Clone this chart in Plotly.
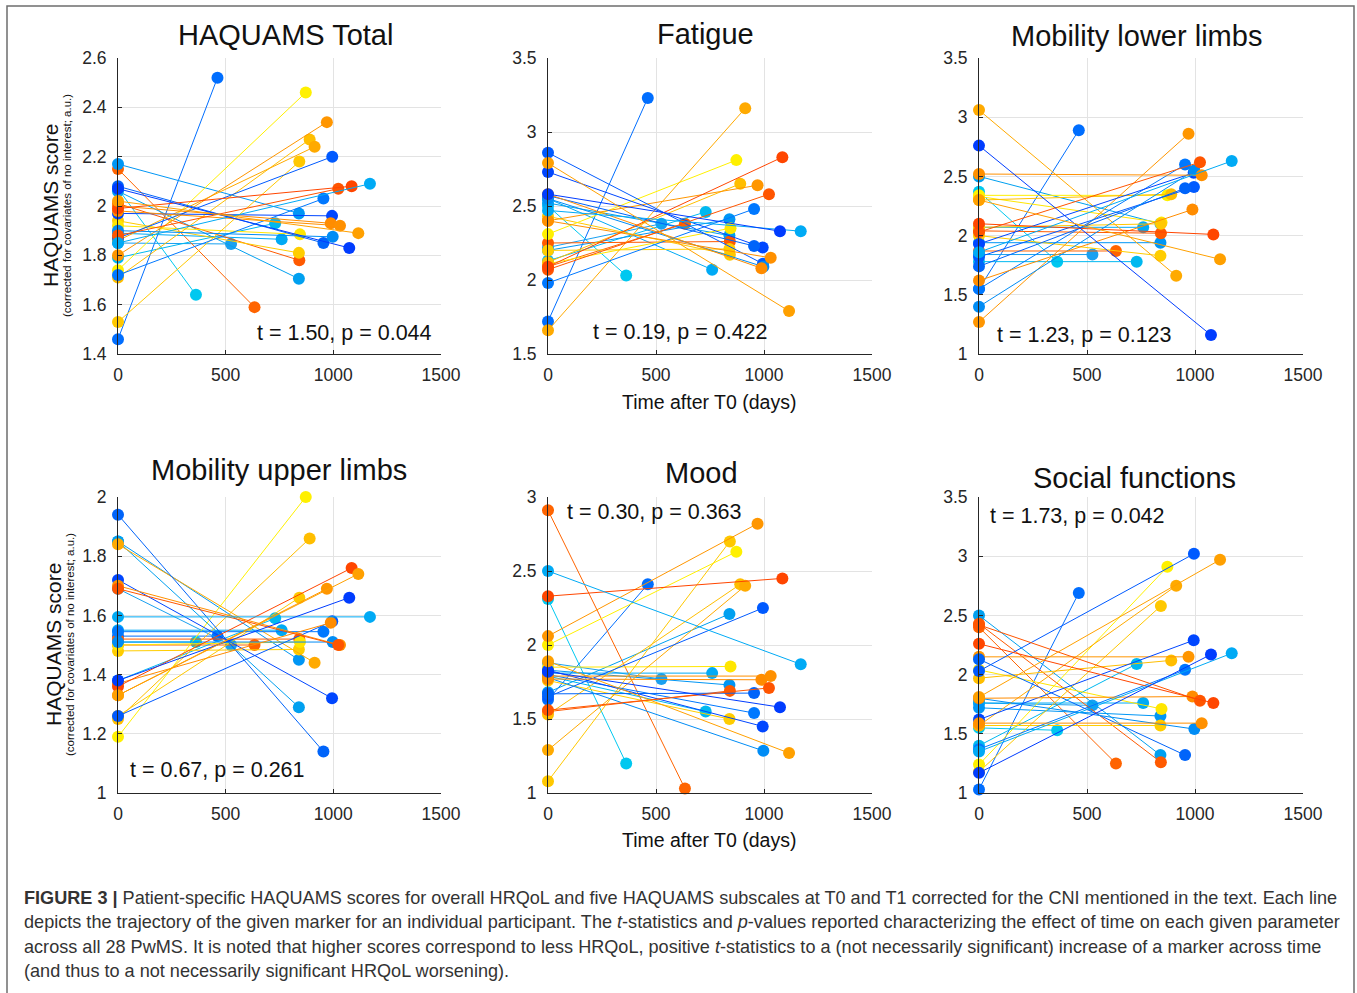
import plotly.graph_objects as go

W, H = 1357, 993

# ---------------- data ----------------
participants = [f"P{i}" for i in range(1, 29)]
t1_days = [462, 362, 525, 634, 730, 760, 840, 840, 842, 840, 845, 842, 872, 890,
           913, 970, 995, 954, 994, 954, 997, 988, 1031, 1023, 1085, 1170, 1074, 1116]
colors = ["#006eff", "#00c8f0", "#19a0f0", "#ff6400", "#00b8f0", "#00aaf5", "#0096f5",
          "#00a0f0", "#ff5a00", "#ffcd00", "#ffe600", "#ffc800", "#fff000", "#ffbe00",
          "#ffaa00", "#ff9600", "#005aff", "#0078ff", "#0046ff", "#0064fa", "#008cf5",
          "#ff8c00", "#ff9000", "#ff5500", "#ff4600", "#00aaf5", "#003cff", "#ffa000"]

total_t0 = [1.46, 2.07, 1.85, 2.15, 1.79, 1.89, 2.17, 2.06, 2.01, 1.94, 1.92, 1.53, 1.74, 1.71,
            1.86, 1.80, 1.87, 1.72, 1.97, 2.08, 1.90, 2.00, 1.98, 1.88, 1.99, 1.85, 2.07, 2.02]
total_t1 = [2.52, 1.64, 1.846, 1.59, 1.93, 1.865, 1.97, 1.705, 1.78, 1.81, 1.885, 2.18, 2.46, 2.27,
            2.24, 2.34, 2.20, 2.03, 1.96, 1.85, 1.875, 1.93, 1.92, 2.07, 2.08, 2.09, 1.83, 1.89]

fatigue_t0 = [1.72, 2.50, 2.22, 2.09, 2.13, 2.55, 2.20, 2.52, 2.25, 2.20, 2.11, 2.43, 2.31, 2.12,
              1.66, 2.40, 2.86, 1.98, 2.73, 2.57, 2.55, 2.58, 2.40, 2.07, 2.09, 2.47, 2.58, 2.79]
fatigue_t1 = [3.23, 2.03, 2.38, 2.38, 2.46, 2.07, 2.41, 2.30, 2.26, 2.21, 2.35, 2.17, 2.81, 2.65,
              3.16, 2.64, 2.11, 2.48, 2.22, 2.23, 2.09, 2.08, 2.15, 2.58, 2.83, 2.33, 2.33, 1.79]

mob_low_t0 = [1.55, 2.37, 1.84, 1.87, 1.78, 2.07, 1.94, 2.50, 2.04, 2.00, 2.33, 2.07, 2.34, 2.30,
              3.06, 1.27, 1.82, 1.55, 1.93, 1.74, 1.40, 1.62, 2.52, 2.03, 2.10, 1.86, 2.76, 2.30]
mob_low_t1 = [2.89, 1.78, 1.84, 1.87, 1.78, 2.07, 1.94, 2.10, 2.02, 1.83, 2.11, 2.10, 2.34, 2.35,
              1.66, 2.86, 2.41, 2.60, 2.53, 2.40, 2.55, 2.22, 2.51, 2.62, 2.01, 2.63, 1.16, 1.80]

mob_up_t0 = [1.53, 1.51, 1.69, 1.50, 1.38, 1.55, 1.85, 1.85, 1.52, 1.48, 1.50, 1.26, 1.19, 1.25,
             1.84, 1.33, 1.26, 1.545, 1.72, 1.94, 1.51, 1.37, 1.70, 1.69, 1.36, 1.595, 1.38, 1.33]
mob_up_t1 = [1.53, 1.51, 1.50, 1.50, 1.59, 1.55, 1.45, 1.29, 1.52, 1.485, 1.51, 1.66, 2.00, 1.86,
             1.44, 1.69, 1.58, 1.545, 1.32, 1.14, 1.51, 1.575, 1.50, 1.50, 1.76, 1.595, 1.66, 1.74]

mood_t0 = [1.63, 2.31, 1.88, 2.91, 1.79, 1.81, 1.83, 1.68, 1.55, 1.76, 1.85, 1.08, 2.00, 1.53,
           1.29, 2.06, 1.65, 1.80, 1.83, 1.67, 1.78, 1.77, 1.79, 1.56, 2.33, 2.50, 1.82, 1.89]
mood_t1 = [2.41, 1.20, 1.77, 1.03, 1.55, 1.81, 1.73, 2.21, 1.69, 1.50, 1.855, 2.70, 2.63, 2.41,
           2.40, 2.82, 2.25, 1.54, 1.45, 1.675, 1.285, 1.765, 1.79, 1.71, 2.45, 1.87, 1.58, 1.27]

social_t0 = [1.03, 1.55, 1.76, 2.40, 1.40, 1.76, 1.72, 2.50, 2.43, 1.57, 2.04, 1.18, 1.24, 1.97,
             1.57, 2.15, 2.03, 1.37, 1.62, 2.13, 1.80, 1.80, 1.59, 2.42, 2.26, 1.35, 1.17, 1.81]
social_t1 = [2.69, 1.53, 1.74, 1.25, 2.09, 1.76, 1.65, 1.32, 1.26, 1.57, 1.71, 2.58, 2.91, 2.12,
             2.75, 2.15, 3.02, 2.04, 2.29, 1.32, 1.54, 1.815, 1.59, 1.78, 1.76, 2.18, 2.17, 2.97]

panel_titles = ["HAQUAMS Total", "Fatigue", "Mobility lower limbs",
                "Mobility upper limbs", "Mood", "Social functions"]
panel_stats = ["t = 1.50, p = 0.044", "t = 0.19, p = 0.422", "t = 1.23, p = 0.123",
               "t = 0.67, p = 0.261", "t = 0.30, p = 0.363", "t = 1.73, p = 0.042"]
y_ranges = [(1.4, 2.6), (1.5, 3.5), (1.0, 3.5), (1.0, 2.0), (1.0, 3.0), (1.0, 3.5)]
y_ticks = [[1.4, 1.6, 1.8, 2.0, 2.2, 2.4, 2.6], [1.5, 2, 2.5, 3, 3.5], [1, 1.5, 2, 2.5, 3, 3.5],
           [1, 1.2, 1.4, 1.6, 1.8, 2], [1, 1.5, 2, 2.5, 3], [1, 1.5, 2, 2.5, 3, 3.5]]
y_ticktext = [["1.4", "1.6", "1.8", "2", "2.2", "2.4", "2.6"], ["1.5", "2", "2.5", "3", "3.5"],
              ["1", "1.5", "2", "2.5", "3", "3.5"], ["1", "1.2", "1.4", "1.6", "1.8", "2"],
              ["1", "1.5", "2", "2.5", "3"], ["1", "1.5", "2", "2.5", "3", "3.5"]]
x_ticks = [0, 500, 1000, 1500]
x_title = "Time after T0 (days)"
y_title = "HAQUAMS score"
y_subtitle = "(corrected for covariates of no interest; a.u.)"

panels_t0 = [total_t0, fatigue_t0, mob_low_t0, mob_up_t0, mood_t0, social_t0]
panels_t1 = [total_t1, fatigue_t1, mob_low_t1, mob_up_t1, mood_t1, social_t1]

# ---------------- layout geometry (pixels) ----------------
col_px = [(118, 441), (548, 872), (979, 1303)]
row_px = [(58, 354), (497, 793)]

def px(x):
    return x / W

def py(y):
    return 1 - y / H

FONT = "Liberation Sans, Arial, Helvetica, sans-serif"
TXT = "#262626"

fig = go.Figure()
layout = dict(width=W, height=H, margin=dict(l=0, r=0, t=0, b=0, pad=0, autoexpand=False),
              autosize=False,
              paper_bgcolor="white", plot_bgcolor="white", showlegend=False,
              font=dict(family=FONT, color=TXT))

annotations = []
for k in range(6):
    r, c = divmod(k, 3)
    ax = "" if k == 0 else str(k + 1)
    xa, ya = "x" + ax, "y" + ax
    x0p, x1p = col_px[c]
    y0p, y1p = row_px[r]
    layout["xaxis" + ax] = dict(
        domain=[px(x0p), px(x1p)], range=[0, 1500], anchor=ya, automargin=False,
        tickvals=x_ticks, ticktext=[str(v) for v in x_ticks],
        showgrid=True, gridcolor="#e3e3e3", gridwidth=1,
        showline=True, linecolor=TXT, linewidth=1, zeroline=False,
        ticks="inside", ticklen=4, tickcolor=TXT,
        tickfont=dict(size=17.5, color=TXT, family=FONT), ticklabelstandoff=5)
    layout["yaxis" + ax] = dict(
        domain=[py(y1p), py(y0p)], range=list(y_ranges[k]), anchor=xa, automargin=False,
        tickvals=y_ticks[k], ticktext=y_ticktext[k],
        showgrid=True, gridcolor="#e3e3e3", gridwidth=1,
        showline=True, linecolor=TXT, linewidth=1, zeroline=False,
        ticks="inside", ticklen=4, tickcolor=TXT,
        tickfont=dict(size=17.5, color=TXT, family=FONT), ticklabelstandoff=7)
    for i in range(28):
        fig.add_trace(go.Scatter(
            x=[0, t1_days[i]], y=[panels_t0[k][i], panels_t1[k][i]],
            mode="lines+markers", xaxis=xa, yaxis=ya, name=participants[i],
            line=dict(color=colors[i], width=1),
            marker=dict(color=colors[i], size=12, line=dict(width=0)),
            cliponaxis=False, hoverinfo="skip"))

# titles
title_pos = [(285, 35), (705, 34), (1136, 36), (279, 470), (701, 473), (1134, 478)]
for k in range(6):
    annotations.append(dict(text=panel_titles[k], x=px(title_pos[k][0]), y=py(title_pos[k][1]),
                            xref="paper", yref="paper", showarrow=False,
                            xanchor="center", yanchor="middle",
                            font=dict(size=29, color="#111111", family=FONT)))

# stats text
stat_pos = [(434, 333, "right"), (680, 332, "center"), (995, 335, "left"),
            (128, 770, "left"), (565, 512, "left"), (988, 516, "left")]
for k in range(6):
    xx, yy, anc = stat_pos[k]
    annotations.append(dict(text=panel_stats[k], x=px(xx), y=py(yy),
                            xref="paper", yref="paper", showarrow=False,
                            xanchor=anc, yanchor="middle",
                            font=dict(size=21.5, color="#111111", family=FONT)))

# x axis titles
for yy in (402, 840):
    annotations.append(dict(text=x_title, x=px(709), y=py(yy), xref="paper", yref="paper",
                            showarrow=False, xanchor="center", yanchor="middle",
                            font=dict(size=19.5, color="#111111", family=FONT)))

# y axis titles
for (xa_, xs_, yc) in ((50, 67, 206), (53, 70, 645)):
    annotations.append(dict(text=y_title, x=px(xa_), y=py(yc), xref="paper", yref="paper",
                            showarrow=False, textangle=-90, xanchor="center", yanchor="middle",
                            font=dict(size=21, color="#111111", family=FONT)))
    annotations.append(dict(text=y_subtitle, x=px(xs_), y=py(yc), xref="paper", yref="paper",
                            showarrow=False, textangle=-90, xanchor="center", yanchor="middle",
                            font=dict(size=11.5, color="#111111", family=FONT)))

# caption
caption_lines = [
    "<b>FIGURE 3 |</b> Patient-specific HAQUAMS scores for overall HRQoL and five HAQUAMS subscales at T0 and T1 corrected for the CNI mentioned in the text. Each line",
    "depicts the trajectory of the given marker for an individual participant. The <i>t</i>-statistics and <i>p</i>-values reported characterizing the effect of time on each given parameter",
    "across all 28 PwMS. It is noted that higher scores correspond to less HRQoL, positive <i>t</i>-statistics to a (not necessarily significant) increase of a marker across time",
    "(and thus to a not necessarily significant HRQoL worsening).",
]
cap_y = [898, 922, 947, 971]
for line, yy in zip(caption_lines, cap_y):
    annotations.append(dict(text=line, x=px(22), y=py(yy), xref="paper", yref="paper",
                            showarrow=False, xanchor="left", yanchor="middle",
                            font=dict(size=18.1, color="#333333", family=FONT)))

layout["annotations"] = annotations
layout["shapes"] = [dict(type="rect", xref="paper", yref="paper",
                         x0=px(7), x1=px(1354), y0=py(1005), y1=py(6),
                         line=dict(color="#6e6e6e", width=1.5), fillcolor="rgba(0,0,0,0)")]
fig.update_layout(**layout)
fig.write_html("out.html", config={"displayModeBar": False},
               post_script="document.body.style.margin='0';document.body.style.padding='0';"
                           "document.body.style.overflow='hidden';")
